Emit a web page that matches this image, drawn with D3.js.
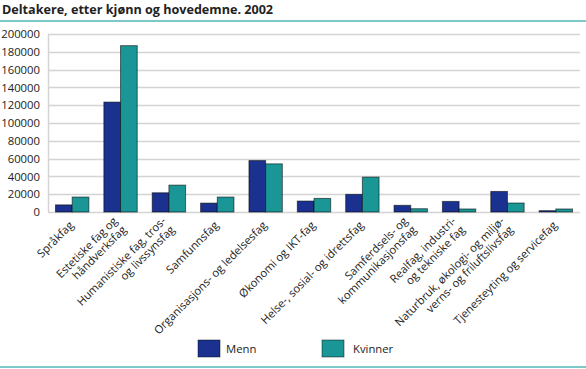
<!DOCTYPE html>
<html><head><meta charset="utf-8">
<script src="https://cdn.jsdelivr.net/npm/d3@7"></script>
<style>body{margin:0;background:#fff}svg{display:block}text{font-family:"Open Sans",sans-serif;fill:#222}</style>
</head><body><svg id="c" width="586" height="369"></svg>
<script>
const categories = [
  ["Språkfag"],
  ["Estetiske fag og","håndverksfag"],
  ["Humanistiske fag, tros-","og livssynsfag"],
  ["Samfunnsfag"],
  ["Organisasjons- og ledelsesfag"],
  ["Økonomi og IKT-fag"],
  ["Helse-, sosial- og idrettsfag"],
  ["Samferdsels- og","kommunikasjonsfag"],
  ["Realfag, industri-","og tekniske fag"],
  ["Naturbruk, økologi- og miljø-","verns- og friluftslivsfag"],
  ["Tjenesteyting og servicefag"]
];
const menn    = [8000,123500,21600,10000,57800,12300,19800,7500,11900,23100,1500];
const kvinner = [16800,186900,30200,16800,54100,15300,39200,3700,3400,10100,3400];
const seriesNames = ["Menn","Kvinner"];
const colors = ["#1b3190","#1a9696"];
const yTicks = [0,20000,40000,60000,80000,100000,120000,140000,160000,180000,200000];
const title = "Deltakere, etter kjønn og hovedemne. 2002";

const svg = d3.select("#c");
const m = {l:48, r:580, t:34, b:212};
const x = d3.scaleBand().domain(d3.range(categories.length)).range([m.l, m.r]).paddingInner(0.31).paddingOuter(0.155);
const x1 = d3.scaleBand().domain([0,1]).range([0, x.bandwidth()]);
const y = d3.scaleLinear().domain([0,200000]).range([m.b, m.t]);

// title
svg.append("text").attr("x",2).attr("y",14).attr("font-size",12.6).attr("font-weight",700).text(title);
svg.append("line").attr("x1",0).attr("x2",586).attr("y1",21).attr("y2",21).attr("stroke","#7cc7c7").attr("stroke-width",2);
svg.append("line").attr("x1",0).attr("x2",586).attr("y1",367).attr("y2",367).attr("stroke","#7cc7c7").attr("stroke-width",2);

// grid
svg.append("g").selectAll("line").data(yTicks).join("line")
  .attr("x1",m.l).attr("x2",m.r).attr("y1",d=>Math.round(y(d))+0.5).attr("y2",d=>Math.round(y(d))+0.5)
  .attr("stroke","#d4d4d4").attr("stroke-width",1.5);
svg.append("line").attr("x1",m.l+0.5).attr("x2",m.l+0.5).attr("y1",m.t).attr("y2",m.b).attr("stroke","#d4d4d4").attr("stroke-width",1.5);

// y axis labels
const ya = svg.append("g").attr("transform",`translate(${m.l-8},0)`)
  .call(d3.axisLeft(y).tickValues(yTicks).tickFormat(d3.format("d")).tickSize(0).tickPadding(0));
ya.select(".domain").remove();
ya.selectAll("text").attr("font-size",11.3).attr("fill","#222").style("font-family","'Open Sans',sans-serif");

// bars
const data = [menn,kvinner];
const g = svg.append("g");
data.forEach((arr,si)=>{
  g.selectAll(null).data(arr).join("rect")
    .attr("x",(d,i)=>x(i)+x1(si))
    .attr("y",d=>y(d))
    .attr("width",x1.bandwidth())
    .attr("height",d=>y(0)-y(d))
    .attr("fill",colors[si]).attr("stroke","rgba(0,0,0,0.55)").attr("stroke-width",1);
});

// x labels
const lh = 12.5;
categories.forEach((lines,i)=>{
  const cx = x(i)+x.bandwidth()/2;
  const t = svg.append("text").attr("font-size",11.2).attr("text-anchor","end")
    .attr("transform",`translate(${cx+2},${m.b+14}) rotate(-45)`);
  const off = -(lines.length-1)*lh/2;
  lines.forEach((s,k)=>{
    t.append("tspan").attr("x",0).attr("y",off+k*lh).text(s);
  });
});

// legend
const lg = svg.append("g");
[[198,226],[322,353]].forEach((p,i)=>{
  lg.append("rect").attr("x",p[0]).attr("y",340).attr("width",22).attr("height",17).attr("fill",colors[i]).attr("stroke","rgba(0,0,0,0.45)");
  lg.append("text").attr("x",p[1]).attr("y",353).attr("font-size",11.3).text(seriesNames[i]);
});
</script></body></html>
